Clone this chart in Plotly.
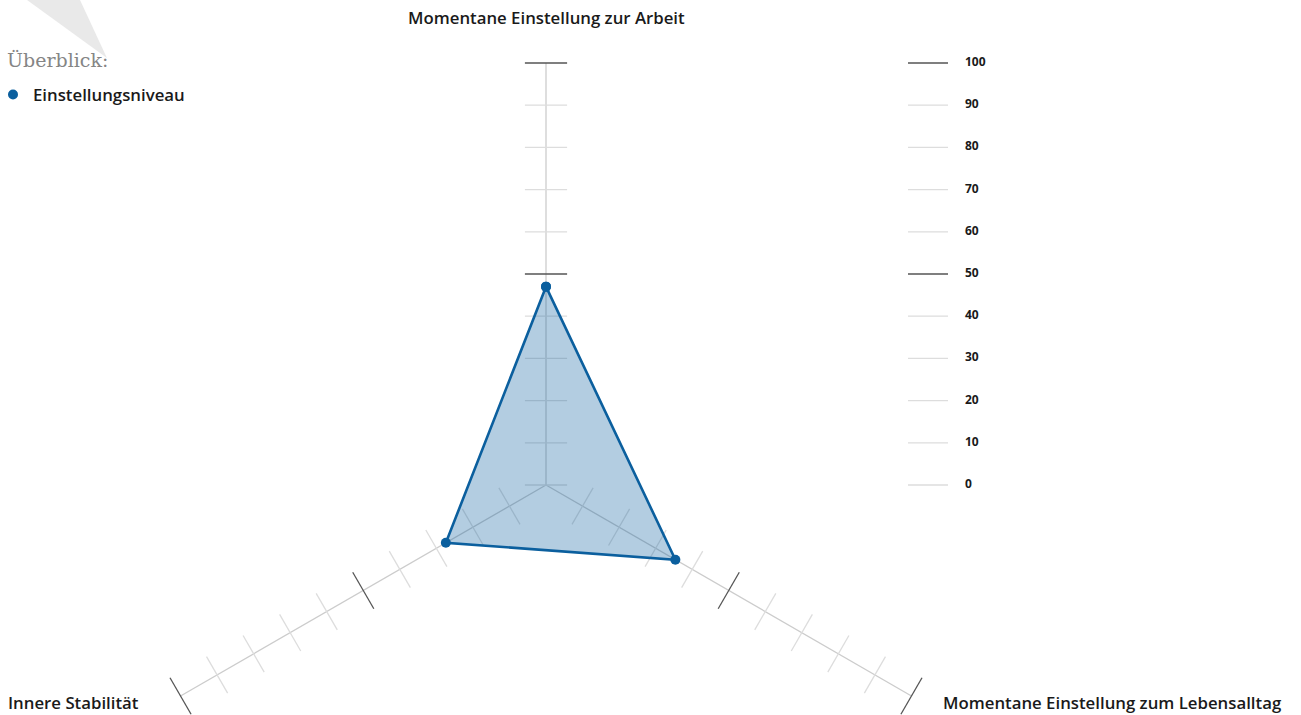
import math
import plotly.graph_objects as go

# ---------------- data ----------------
categories = ["Momentane Einstellung zur Arbeit",
              "Momentane Einstellung zum Lebensalltag",
              "Innere Stabilität"]
values = [47, 35.4, 27.4]
series_name = "Einstellungsniveau"
scale_ticks = [0, 10, 20, 30, 40, 50, 60, 70, 80, 90, 100]
major_ticks = [50, 100]
legend_title = "Überblick:"

# ---------------- geometry / style ----------------
W, H = 1301, 715
PX = 4.22            # pixels per value unit
CX, CY = 546, 485    # centre of the radar in pixels
RMAX = 100
TICK_HALF = 5.0      # half tick length in value units
n = len(categories)
angles = [math.radians(90 - 360.0 / n * i) for i in range(n)]

BLUE = "#0b5f9e"
FILL = "rgba(11,95,158,0.31)"
AXIS_C = "#cccccc"
MINOR_C = "#dddddd"
MAJOR_C = "#555555"
TXT = "#1a1a1a"
FONT = "Open Sans"
LABEL_SIZE = 16.8


def pol(r, a):
    return r * math.cos(a), r * math.sin(a)


fig = go.Figure()

# spokes
sx, sy = [], []
for a in angles:
    x0, y0 = pol(0, a)
    x1, y1 = pol(RMAX, a)
    sx += [x0, x1, None]
    sy += [y0, y1, None]
fig.add_trace(go.Scatter(x=sx, y=sy, mode="lines", line=dict(color=AXIS_C, width=1.3),
                         hoverinfo="skip", showlegend=False))

# perpendicular ticks
minor_x, minor_y, major_x, major_y = [], [], [], []
for i, a in enumerate(angles):
    for v in scale_ticks:
        if v == 0 and i != 0:
            continue
        px_, py_ = pol(v, a)
        nx, ny = -math.sin(a), math.cos(a)
        xs = [px_ - nx * TICK_HALF, px_ + nx * TICK_HALF, None]
        ys = [py_ - ny * TICK_HALF, py_ + ny * TICK_HALF, None]
        if v in major_ticks:
            major_x += xs
            major_y += ys
        else:
            minor_x += xs
            minor_y += ys
fig.add_trace(go.Scatter(x=minor_x, y=minor_y, mode="lines", line=dict(color=MINOR_C, width=1.3),
                         hoverinfo="skip", showlegend=False))
fig.add_trace(go.Scatter(x=major_x, y=major_y, mode="lines", line=dict(color=MAJOR_C, width=1.3),
                         hoverinfo="skip", showlegend=False))

# data polygon
dx = [pol(v, a)[0] for v, a in zip(values, angles)]
dy = [pol(v, a)[1] for v, a in zip(values, angles)]
fig.add_trace(go.Scatter(x=dx + [dx[0]], y=dy + [dy[0]], mode="lines+markers", fill="toself",
                         fillcolor=FILL, line=dict(color=BLUE, width=2.6),
                         marker=dict(color=BLUE, size=10),
                         text=categories + [categories[0]],
                         customdata=values + [values[0]],
                         hovertemplate="%{text}: %{customdata}<extra></extra>",
                         name=series_name, showlegend=False))

# legend entry
fig.add_trace(go.Scatter(x=[None], y=[None], mode="markers", name=series_name,
                         marker=dict(color=BLUE, size=10), showlegend=True))

# right-hand scale
LX0 = (908 - CX) / PX
LX1 = (948 - CX) / PX
lmin_x, lmin_y, lmaj_x, lmaj_y = [], [], [], []
for v in scale_ticks:
    if v in major_ticks:
        lmaj_x += [LX0, LX1, None]
        lmaj_y += [v, v, None]
    else:
        lmin_x += [LX0, LX1, None]
        lmin_y += [v, v, None]
fig.add_trace(go.Scatter(x=lmin_x, y=lmin_y, mode="lines", line=dict(color=MINOR_C, width=1.3),
                         hoverinfo="skip", showlegend=False))
fig.add_trace(go.Scatter(x=lmaj_x, y=lmaj_y, mode="lines", line=dict(color=MAJOR_C, width=1.3),
                         hoverinfo="skip", showlegend=False))
fig.add_trace(go.Scatter(x=[(965 - CX) / PX] * len(scale_ticks), y=scale_ticks, mode="text",
                         text=[str(v) for v in scale_ticks], textposition="middle right",
                         textfont=dict(family=FONT, size=12, color=TXT, weight=700),
                         hoverinfo="skip", showlegend=False))

# background wedge in the top-left corner
fig.add_shape(type="path", xref="paper", yref="paper",
              path="M {:.4f},1 L {:.4f},1 L {:.4f},{:.4f} Z".format(27 / W, 80 / W, 107 / W, 1 - 58 / H),
              fillcolor="#e9e9e9", line=dict(width=0), layer="below")

# axis labels
fig.add_annotation(x=CX / W, y=1 - 18 / H, xref="paper", yref="paper", text=categories[0],
                   showarrow=False, xanchor="center", yanchor="middle",
                   font=dict(family=FONT, size=LABEL_SIZE, color=TXT, weight=600))
fig.add_annotation(x=1284 / W, y=1 - 702 / H, xref="paper", yref="paper", text=categories[1],
                   showarrow=False, xanchor="right", yanchor="middle",
                   font=dict(family=FONT, size=LABEL_SIZE, color=TXT, weight=600))
fig.add_annotation(x=6 / W, y=1 - 702 / H, xref="paper", yref="paper", text=categories[2],
                   showarrow=False, xanchor="left", yanchor="middle",
                   font=dict(family=FONT, size=LABEL_SIZE, color=TXT, weight=600))

# legend title
fig.add_annotation(x=5 / W, y=1 - 60 / H, xref="paper", yref="paper", text=legend_title,
                   showarrow=False, xanchor="left", yanchor="middle",
                   font=dict(family="DejaVu Serif", size=19, color="#858585"))

fig.update_layout(
    width=W, height=H,
    margin=dict(l=0, r=0, t=0, b=0, autoexpand=False),
    paper_bgcolor="white", plot_bgcolor="white",
    xaxis=dict(range=[-CX / PX, (W - CX) / PX], visible=False, fixedrange=True),
    yaxis=dict(range=[-(H - CY) / PX, CY / PX], visible=False, fixedrange=True),
    legend=dict(x=-7 / W, y=1 - 77 / H, xanchor="left", yanchor="top",
                font=dict(family=FONT, size=LABEL_SIZE, color=TXT, weight=600),
                bgcolor="rgba(0,0,0,0)", itemwidth=30),
    showlegend=True,
)

fig.write_html("out.html", config={"displayModeBar": False},
               post_script="document.body.style.margin='0px';document.body.style.overflow='hidden';")
